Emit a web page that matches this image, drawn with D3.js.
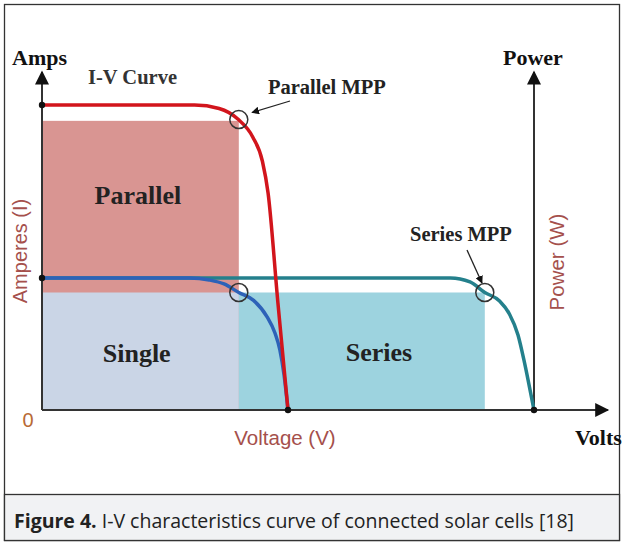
<!DOCTYPE html>
<html>
<head>
<meta charset="utf-8">
<script src="https://cdn.jsdelivr.net/npm/d3@7"></script>
<style>
  html, body { margin: 0; padding: 0; background: #fff; }
  svg { display: block; }
</style>
</head>
<body>
<svg id="chart" width="623" height="544"></svg>
<script>
// ---- Data (voltage in units of single-cell Voc, current in units of single-cell Isc) ----
const parallelV = [0, 0.62, 0.72, 0.796, 0.856, 0.896, 0.919, 0.959, 1.0];
const parallelI = [2.31, 2.31, 2.284, 2.204, 2.07, 1.884, 1.644, 0.811, 0];
const singleV = [0, 0.60, 0.68, 0.74, 0.80, 0.86, 0.915, 0.947, 0.967, 0.984, 1.0];
const singleI = [1.0, 1.0, 0.985, 0.955, 0.89, 0.83, 0.705, 0.583, 0.455, 0.265, 0];
const seriesV = [0, 1.66, 1.74, 1.80, 1.86, 1.90, 1.935, 1.959, 1.98, 2.0];
const seriesI = [1.0, 1.0, 0.97, 0.89, 0.826, 0.727, 0.568, 0.379, 0.189, 0];
const mppNames = ["Parallel MPP", "Single MPP", "Series MPP"];
const mppV = [0.80, 0.80, 1.80];
const mppI = [2.20, 0.89, 0.89];
const areaNames = ["Parallel", "Single", "Series"];
const areaV0 = [0, 0, 0.80];
const areaV1 = [0.80, 0.80, 1.80];
const areaI = [2.19, 0.89, 0.89];
const endDotsV = [0, 0, 1.0, 2.0];
const endDotsI = [2.31, 1.0, 0, 0];

const svg = d3.select("#chart");
const x = d3.scaleLinear().domain([0, 2.3]).range([42, 607.8]);
const y = d3.scaleLinear().domain([0, 2.56]).range([410, 72]);

// outer frame
svg.append("rect").attr("x", 4.5).attr("y", 4.5).attr("width", 615).attr("height", 536)
  .attr("fill", "#fff").attr("stroke", "#333").attr("stroke-width", 1.3);
// caption band
svg.append("rect").attr("x", 4.5).attr("y", 494.5).attr("width", 615).attr("height", 46)
  .attr("fill", "#f1f2f4").attr("stroke", "#333").attr("stroke-width", 1.3);

// arrow markers
const defs = svg.append("defs");
defs.append("marker").attr("id", "ah").attr("viewBox", "0 0 10 10")
  .attr("refX", 9).attr("refY", 5).attr("markerWidth", 6).attr("markerHeight", 6)
  .attr("markerUnits", "strokeWidth").attr("orient", "auto")
  .append("path").attr("d", "M0,0 L10,5 L0,10 Z").attr("fill", "#111");
defs.append("marker").attr("id", "ah2").attr("viewBox", "0 0 10 10")
  .attr("refX", 9).attr("refY", 5).attr("markerWidth", 8).attr("markerHeight", 7)
  .attr("markerUnits", "strokeWidth").attr("orient", "auto")
  .append("path").attr("d", "M0,0 L10,5 L0,10 Z").attr("fill", "#111");

// power areas
const areaFill = ["#d99592", "#cad5e6", "#9dd3df"];
svg.selectAll("rect.area").data(areaNames).enter().append("rect").attr("class", "area")
  .attr("x", (d, i) => x(areaV0[i]))
  .attr("y", (d, i) => y(areaI[i]))
  .attr("width", (d, i) => x(areaV1[i]) - x(areaV0[i]))
  .attr("height", (d, i) => y(0) - y(areaI[i]))
  .attr("fill", (d, i) => areaFill[i]);

// area labels
const serif = "'Liberation Serif', serif";
const labelPos = [[0.39, 1.56], [0.385, 0.364], [1.37, 0.371]];
svg.selectAll("text.alab").data(areaNames).enter().append("text").attr("class", "alab")
  .attr("x", (d, i) => x(labelPos[i][0])).attr("y", (d, i) => y(labelPos[i][1]))
  .attr("text-anchor", "middle")
  .attr("font-family", serif).attr("font-weight", "bold")
  .attr("font-size", 26).attr("fill", "#222").text(d => d);

// axes
const axisColor = "#333";
svg.append("line").attr("x1", x(0)).attr("y1", y(0)).attr("x2", x(0)).attr("y2", y(2.56))
  .attr("stroke", axisColor).attr("stroke-width", 2).attr("marker-end", "url(#ah2)");
svg.append("line").attr("x1", x(2.0)).attr("y1", y(0)).attr("x2", x(2.0)).attr("y2", y(2.56))
  .attr("stroke", axisColor).attr("stroke-width", 2).attr("marker-end", "url(#ah2)");
svg.append("line").attr("x1", x(0)).attr("y1", y(0)).attr("x2", x(2.3)).attr("y2", y(0))
  .attr("stroke", axisColor).attr("stroke-width", 2).attr("marker-end", "url(#ah2)");

// curves
const line = d3.line().x(d => x(d[0])).y(d => y(d[1])).curve(d3.curveMonotoneX);
const curves = [
  { v: seriesV, i: seriesI, c: "#24808c" },
  { v: singleV, i: singleI, c: "#2d62b8" },
  { v: parallelV, i: parallelI, c: "#d2151c" }
];
curves.forEach(cv => {
  svg.append("path").datum(cv.v.map((v, k) => [v, cv.i[k]]))
    .attr("d", line).attr("fill", "none").attr("stroke", cv.c)
    .attr("stroke-width", 3.5).attr("stroke-linejoin", "round");
});

// end dots
svg.selectAll("circle.dot").data(endDotsV).enter().append("circle").attr("class", "dot")
  .attr("cx", (d, i) => x(d)).attr("cy", (d, i) => y(endDotsI[i])).attr("r", 3.2).attr("fill", "#111");

// MPP circles
svg.selectAll("circle.mpp").data(mppNames).enter().append("circle").attr("class", "mpp")
  .attr("cx", (d, i) => x(mppV[i])).attr("cy", (d, i) => y(mppI[i])).attr("r", 9)
  .attr("fill", "none").attr("stroke", "#333").attr("stroke-width", 1.5);

// MPP annotations
svg.append("text").attr("x", 268).attr("y", 94).attr("font-family", serif).attr("font-weight", "bold")
  .attr("font-size", 20.5).attr("fill", "#222").text("Parallel MPP");
svg.append("line").attr("x1", 290).attr("y1", 101).attr("x2", 252).attr("y2", 112.5)
  .attr("stroke", "#222").attr("stroke-width", 1.3).attr("marker-end", "url(#ah)");
svg.append("text").attr("x", 410).attr("y", 241).attr("font-family", serif).attr("font-weight", "bold")
  .attr("font-size", 20.5).attr("fill", "#222").text("Series MPP");
svg.append("line").attr("x1", 467).attr("y1", 250).attr("x2", 482).attr("y2", 283)
  .attr("stroke", "#222").attr("stroke-width", 1.3).attr("marker-end", "url(#ah)");

// axis titles
svg.append("text").attr("x", 12).attr("y", 65).attr("font-family", serif).attr("font-weight", "bold")
  .attr("font-size", 22).attr("fill", "#111").text("Amps");
svg.append("text").attr("x", 88).attr("y", 84).attr("font-family", serif).attr("font-weight", "bold")
  .attr("font-size", 20.5).attr("fill", "#333").text("I-V Curve");
svg.append("text").attr("x", 503).attr("y", 65).attr("font-family", serif).attr("font-weight", "bold")
  .attr("font-size", 22).attr("fill", "#111").text("Power");
svg.append("text").attr("x", 575).attr("y", 445).attr("font-family", serif).attr("font-weight", "bold")
  .attr("font-size", 22).attr("fill", "#111").text("Volts");

const sans = "'Liberation Sans', Arial, sans-serif";
const redText = "#a5504c";
svg.append("text").attr("transform", "translate(27,251) rotate(-90)").attr("text-anchor", "middle")
  .attr("font-family", sans).attr("font-size", 20).attr("fill", redText).text("Amperes (I)");
svg.append("text").attr("transform", "translate(564,262) rotate(-90)").attr("text-anchor", "middle")
  .attr("font-family", sans).attr("font-size", 20.5).attr("fill", redText).text("Power (W)");
svg.append("text").attr("x", 285).attr("y", 445).attr("text-anchor", "middle")
  .attr("font-family", sans).attr("font-size", 20.5).attr("fill", redText).text("Voltage (V)");
svg.append("text").attr("x", 28).attr("y", 427).attr("text-anchor", "middle")
  .attr("font-family", sans).attr("font-size", 20).attr("fill", "#b86a35").text("0");

// caption
const cap = svg.append("text").attr("x", 14).attr("y", 528)
  .attr("font-family", "'Open Sans', 'Noto Sans', sans-serif").attr("font-size", 19.5).attr("fill", "#222");
cap.append("tspan").attr("font-weight", "bold").text("Figure 4.");
cap.append("tspan").text(" I-V characteristics curve of connected solar cells [18]");
</script>
</body>
</html>
